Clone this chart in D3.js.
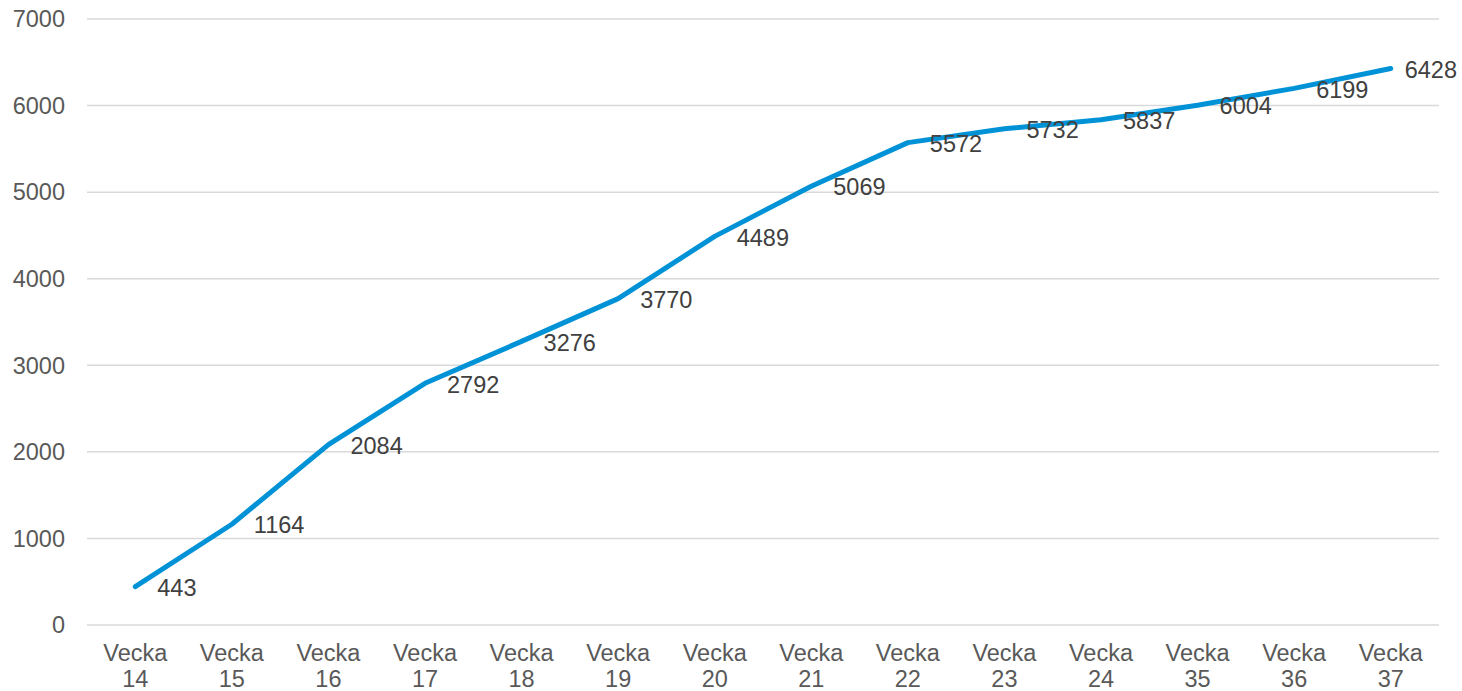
<!DOCTYPE html>
<html>
<head>
<meta charset="utf-8">
<script src="https://cdn.jsdelivr.net/npm/d3@7"></script>
<style>
  body { margin: 0; background: #fff; overflow: hidden; }
  text { font-family: Arial, "Liberation Sans", sans-serif; }
</style>
</head>
<body>
<div id="chart"></div>
<script>
// data
const weeks = ["14", "15", "16", "17", "18", "19", "20", "21", "22", "23", "24", "35", "36", "37"]
const totals = [443, 1164, 2084, 2792, 3276, 3770, 4489, 5069, 5572, 5732, 5837, 6004, 6199, 6428]
const yTicks = [0, 1000, 2000, 3000, 4000, 5000, 6000, 7000]

const width = 1462
const height = 691
const margin = {top: 19, right: 23, bottom: 66, left: 87}
const fontSize = "23.5px"

const svg = d3.select("#chart")
  .append("svg")
  .attr("width", width)
  .attr("height", height)

const x = d3.scaleBand()
  .domain(weeks)
  .range([margin.left, width - margin.right])

const y = d3.scaleLinear()
  .domain([0, 7000])
  .range([height - margin.bottom, margin.top])

// gridlines
svg.append("g")
  .selectAll("line")
  .data(yTicks)
  .join("line")
    .attr("x1", margin.left)
    .attr("x2", width - margin.right)
    .attr("y1", d => y(d))
    .attr("y2", d => y(d))
    .attr("stroke", "#d9d9d9")
    .attr("stroke-width", 1.5)

// y labels
svg.append("g")
  .selectAll("text")
  .data(yTicks)
  .join("text")
    .attr("x", margin.left - 22)
    .attr("y", d => y(d))
    .attr("dy", "0.35em")
    .attr("text-anchor", "end")
    .style("font-size", fontSize)
    .style("fill", "#595959")
    .text(d => d)

// x labels, two lines each
const xLab = svg.append("g")
  .selectAll("text")
  .data(weeks)
  .join("text")
    .attr("text-anchor", "middle")
    .style("font-size", fontSize)
    .style("fill", "#595959")
xLab.append("tspan")
  .attr("x", d => x(d) + x.bandwidth() / 2)
  .attr("y", 661)
  .text("Vecka")
xLab.append("tspan")
  .attr("x", d => x(d) + x.bandwidth() / 2)
  .attr("y", 687)
  .text(d => d)

// the line
const line = d3.line()
  .x((d, i) => x(weeks[i]) + x.bandwidth() / 2)
  .y(d => y(d))

svg.append("path")
  .datum(totals)
  .attr("d", line)
  .attr("fill", "none")
  .attr("stroke", "#0092d6")
  .attr("stroke-width", 5)
  .attr("stroke-linejoin", "round")
  .attr("stroke-linecap", "round")

// data labels to the right of each point
svg.append("g")
  .selectAll("text")
  .data(totals)
  .join("text")
    .attr("x", (d, i) => x(weeks[i]) + x.bandwidth() / 2 + (i === totals.length - 1 ? 14 : 22))
    .attr("y", d => y(d) + 1)
    .attr("dy", "0.35em")
    .style("font-size", fontSize)
    .style("fill", "#404040")
    .text(d => d)
</script>
</body>
</html>
